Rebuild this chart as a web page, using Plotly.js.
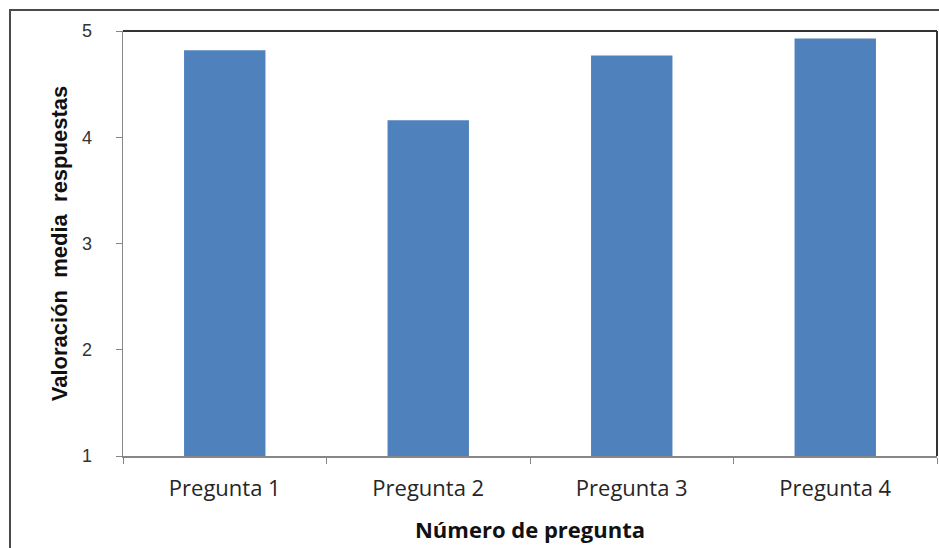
<!DOCTYPE html>
<html>
<head>
<meta charset="utf-8">
<script src="https://cdn.plot.ly/plotly-3.0.1.min.js"></script>
<style>
html,body{margin:0;padding:0;background:#fff;overflow:hidden;}
#wrap{position:relative;width:939px;height:548px;}
#chart{position:absolute;left:0;top:0;width:939px;height:548px;}
#frame{position:absolute;left:9px;top:9px;width:960px;height:600px;border:2px solid #4a4a4a;pointer-events:none;box-sizing:border-box;}
</style>
</head>
<body>
<div id="wrap">
<div id="chart"></div>
<div id="frame"></div>
</div>
<script>
const categories = ["Pregunta 1", "Pregunta 2", "Pregunta 3", "Pregunta 4"];
const values = [4.82, 4.16, 4.77, 4.93];
const yTicks = [1, 2, 3, 4, 5];
const xTitle = "Número de pregunta";
const yTitle = "Valoración\u00a0\u00a0media\u00a0\u00a0respuestas";

const trace = {
  type: "bar",
  x: categories,
  y: values,
  marker: {color: "#4F81BD", line: {width: 0}},
  hoverinfo: "x+y"
};

const layout = {
  width: 939,
  height: 548,
  margin: {l: 123, r: 2, t: 31, b: 92},
  paper_bgcolor: "#ffffff",
  plot_bgcolor: "#ffffff",
  bargap: 0.6,
  showlegend: false,
  font: {family: "Open Sans, sans-serif", color: "#222"},
  xaxis: {
    type: "category",
    showgrid: false,
    showline: true,
    linecolor: "#868686",
    linewidth: 1.5,
    ticks: "outside",
    tickson: "boundaries",
    ticklen: 6,
    tickcolor: "#868686",
    tickfont: {size: 22, color: "#262626", family: "Open Sans, sans-serif"},
    ticklabelstandoff: 12,
    title: {text: xTitle, font: {size: 22, color: "#111", family: "Open Sans, sans-serif", weight: "bold"}, standoff: 21}
  },
  yaxis: {
    range: [1, 5],
    tickvals: yTicks,
    showgrid: false,
    showline: true,
    zeroline: false,
    linecolor: "#868686",
    linewidth: 1.5,
    ticks: "outside",
    ticklen: 6,
    tickcolor: "#868686",
    tickfont: {size: 18, color: "#333", family: "Liberation Sans, Arial, sans-serif"},
    ticklabelstandoff: 20,
    title: {text: yTitle, font: {size: 22, color: "#111", family: "Liberation Sans, Arial, sans-serif", weight: "bold"}, standoff: 8}
  },
  shapes: [
    {type: "line", xref: "paper", yref: "paper", x0: 0, x1: 1, y0: 1, y1: 1, line: {color: "#333", width: 2}},
    {type: "line", xref: "paper", yref: "paper", x0: 1, x1: 1, y0: 0, y1: 1, line: {color: "#333", width: 2}}
  ]
};

Plotly.newPlot("chart", [trace], layout, {displayModeBar: false, staticPlot: true});
</script>
</body>
</html>
